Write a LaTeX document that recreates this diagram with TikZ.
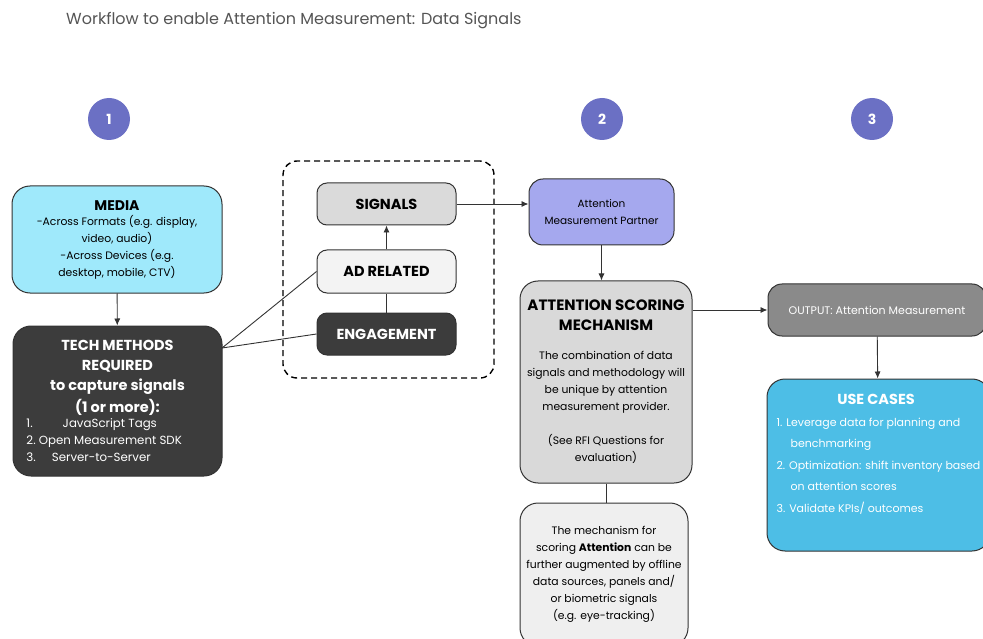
\documentclass[tikz,border=0pt]{standalone}
\usepackage{fontspec}
\setmainfont{Poppins}
\usetikzlibrary{arrows.meta}

\definecolor{edge}{HTML}{333333}
\definecolor{titlegrey}{HTML}{555555}
\definecolor{dotblue}{HTML}{6B70C4}
\definecolor{mediacyan}{HTML}{9FE9FB}
\definecolor{darkbox}{HTML}{3C3C3C}
\definecolor{signalgrey}{HTML}{DADADA}
\definecolor{adgrey}{HTML}{F3F3F3}
\definecolor{partnerblue}{HTML}{A5A8EE}
\definecolor{scoregrey}{HTML}{D9D9D9}
\definecolor{auggrey}{HTML}{EFEFEF}
\definecolor{outgrey}{HTML}{8A8A8A}
\definecolor{usecyan}{HTML}{4DBEE6}

\newcommand{\bodysize}{\fontsize{10.8}{17}\selectfont}
\newcommand{\headsize}{\fontsize{14.5}{20}\selectfont}

\begin{document}
\begin{tikzpicture}[x=1pt, y=-1pt, >={Latex[length=7pt,width=6pt]},
    box/.style={draw=edge, line width=1pt, rounded corners=18pt, align=center, inner sep=0pt, font=\bodysize},
    smallbox/.style={box, rounded corners=10pt, minimum width=139pt, minimum height=42pt, font=\bfseries\fontsize{14.5}{16}\selectfont},
    numdot/.style={circle, fill=dotblue, minimum size=42pt, inner sep=0pt, text=white, font=\bfseries\fontsize{14}{16}\selectfont},
    link/.style={line width=0.9pt, draw=edge}]

    \useasboundingbox (0,0) rectangle (983,639);

    % Title
    \node[anchor=base west, text=titlegrey, font=\fontsize{16}{19}\selectfont, inner sep=0pt] (title) at (66,25) {Workflow to enable Attention Measurement: Data Signals};

    % Step numbers
    \node[numdot] (one) at (109,119) {1};
    \node[numdot] (two) at (602,119) {2};
    \node[numdot] (three) at (872,119) {3};

    % Media
    \node[box, fill=mediacyan, minimum width=210pt, minimum height=107pt] (media) at (117,239.5)
        {{\fontsize{14}{19}\selectfont\bfseries MEDIA}\\[-2pt]-Across Formats (e.g. display,\\video, audio)\\-Across Devices (e.g.\\desktop, mobile, CTV)};

    % Tech methods
    \node[box, fill=darkbox, text=white, minimum width=209pt, minimum height=150pt] (tech) at (117.5,401)
        {{\headsize\bfseries TECH METHODS}\\[3pt]{\headsize\bfseries REQUIRED}\\[3pt]{\headsize\bfseries to capture signals}\\[3pt]{\headsize\bfseries (1 or more):}\\[-2pt]
         \makebox[182pt][l]{\fontsize{11.8}{17}\selectfont 1.\hspace{30pt}JavaScript Tags}\\
         \makebox[182pt][l]{\fontsize{11.8}{17}\selectfont 2.\ Open Measurement SDK}\\
         \makebox[182pt][l]{\fontsize{11.8}{17}\selectfont 3.\hspace{16pt}Server-to-Server}};
    \coordinate (techout) at (222,348); % where the two lines leave

    % Signals group
    \node[draw=black, line width=1.4pt, dash pattern=on 6pt off 4pt, rounded corners=14pt, minimum width=211pt, minimum height=217pt] (group) at (388.5,269.5) {};
    \node[smallbox, fill=signalgrey] (signals) at (386.5,204) {SIGNALS};
    \node[smallbox, fill=adgrey, minimum height=43pt] (adrel) at (386.5,271.5) {AD RELATED};
    \node[smallbox, fill=darkbox, text=white] (engage) at (386.5,334) {ENGAGEMENT};

    % Partner
    \node[box, fill=partnerblue, rounded corners=14pt, minimum width=145pt, minimum height=66pt, font=\fontsize{10.5}{17}\selectfont] (partner) at (601.5,212)
        {Attention\\Measurement Partner};

    % Scoring mechanism
    \node[box, fill=scoregrey, minimum width=172pt, minimum height=202pt] (scoring) at (606,382)
        {{\fontsize{15}{20}\selectfont\bfseries ATTENTION SCORING}\\[3pt]{\fontsize{15}{20}\selectfont\bfseries MECHANISM}\\[12pt]
         The combination of data\\signals and methodology will\\be unique by attention\\measurement provider.\\[17pt]
         (See RFI Questions for\\evaluation)};

    % Augmentation note
    \node[box, fill=auggrey, minimum width=168pt, minimum height=143pt] (aug) at (604,574.5)
        {The mechanism for\\scoring \textbf{Attention} can be\\further augmented by offline\\data sources, panels and/\\or biometric signals\\(e.g. eye-tracking)};

    % Output
    \node[box, fill=outgrey, text=white, rounded corners=14pt, minimum width=218pt, minimum height=52pt, font=\fontsize{11}{14}\selectfont] (output) at (877,310)
        {OUTPUT: Attention Measurement};

    % Use cases
    \node[box, fill=usecyan, text=white, minimum width=223pt, minimum height=172pt, align=left, font=\fontsize{11}{21.5}\selectfont] (usecases) at (878.5,465)
        {\makebox[199pt][c]{\headsize\bfseries USE CASES}\\
         1. Leverage data for planning and\\
         \hspace*{14pt}benchmarking\\
         2. Optimization: shift inventory based\\
         \hspace*{14pt}on attention scores\\
         3. Validate KPIs/ outcomes\\[2pt]~};

    % Connectors
    \draw[link,->] (media) -- (tech);
    \draw[link] (techout) -- (adrel.west);
    \draw[link] (techout) -- (engage.west);
    \draw[link] (engage) -- (adrel);
    \draw[link,->] (adrel) -- (signals);
    \draw[link,->] (signals.east) -- (signals.east -| partner.west);
    \draw[link,->] (partner.south) -- (partner.south |- scoring.north);
    \draw[link] (scoring.south) -- (scoring.south |- aug.north);
    \draw[link,->] (output.west -| scoring.east) -- (output.west);
    \draw[link,->] (output) -- (usecases);

\end{tikzpicture}
\end{document}
